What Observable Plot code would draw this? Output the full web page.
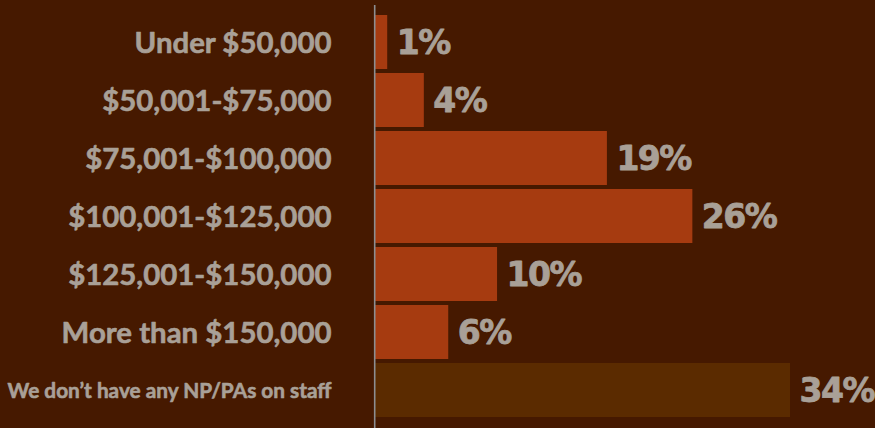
<!DOCTYPE html>
<html>
<head>
<meta charset="utf-8">
<script src="https://cdn.jsdelivr.net/npm/d3@7"></script>
<script src="https://cdn.jsdelivr.net/npm/@observablehq/plot@0.6"></script>
<style>
  html, body { margin: 0; padding: 0; background: #461900; }
  #chart { width: 875px; height: 428px; overflow: hidden; }
  .pct text { letter-spacing: -1.5px; }
</style>
</head>
<body>
<div id="chart"></div>
<script>
const categories = [
  "Under $50,000",
  "$50,001-$75,000",
  "$75,001-$100,000",
  "$100,001-$125,000",
  "$125,001-$150,000",
  "More than $150,000",
  "We don\u2019t have any NP/PAs on staff"
];
const values = [1, 4, 19, 26, 10, 6, 34];
const groups = ["salary", "salary", "salary", "salary", "salary", "salary", "none"];

const data = categories.map((c, i) => ({category: c, value: values[i], group: groups[i]}));

const chart = Plot.plot({
  width: 875,
  height: 428,
  marginLeft: 375,
  marginRight: 85,
  marginTop: 11,
  marginBottom: 7,
  style: {background: "#461900", color: "#a9a097"},
  x: {domain: [0, 34], axis: null},
  y: {domain: categories, paddingInner: 0.069, paddingOuter: 0.069, round: false, axis: null},
  color: {domain: ["salary", "none"], range: ["#a63b10", "#5b2b00"]},
  marks: [
    Plot.barX(data, {x: "value", y: "category", fill: "group"}),
    Plot.ruleX([0], {stroke: "#8c8e91", strokeWidth: 1.6, dx: -0.8, insetTop: -6, insetBottom: -7}),
    Plot.text(data, {
      x: 0, y: "category", text: "category",
      textAnchor: "end", dx: -44, dy: 1,
      fill: "#a9a097", stroke: "#a9a097", strokeWidth: 0.6,
      fontFamily: "Lato", fontWeight: 700,
      fontSize: d => d.group === "none" ? 20.8 : 29.4
    }),
    Plot.text(data, {
      x: "value", y: "category", text: d => d.value + "%",
      textAnchor: "start", dx: 9, dy: 1,
      fill: "#a9a097", stroke: "#a9a097", strokeWidth: 0.8,
      fontFamily: "DejaVu Sans", fontWeight: 700,
      fontSize: 33,
      className: "pct"
    })
  ]
});
document.getElementById("chart").appendChild(chart);
</script>
</body>
</html>
